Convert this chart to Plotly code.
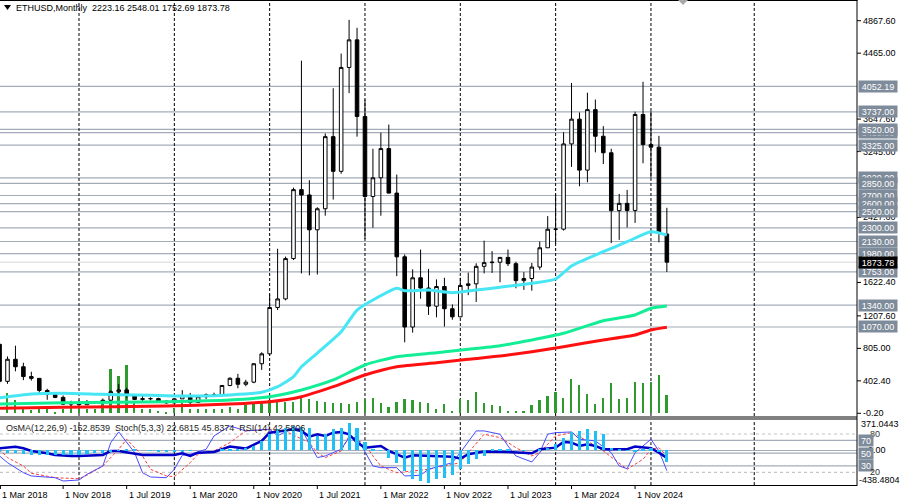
import plotly.graph_objects as go

W, H = 900, 502
FONT = "Liberation Sans, Arial, sans-serif"

# ---------------- categories: monthly bars Mar 2018 .. Mar 2025 ----------------
months = []
for yr in range(2018, 2026):
    for mo in range(1, 13):
        lab = f"{yr}-{mo:02d}"
        if "2018-03" <= lab <= "2025-03":
            months.append(lab)

def pos(label):
    y, m = label.split("-")
    return (int(y) - 2018) * 12 + int(m) - 1

# ---------------- OHLC ----------------
open_ = [855, 396, 670, 577, 455, 433, 283, 232, 197, 113,
         133, 106, 135, 141, 162, 268, 290, 218, 172, 180, 182, 152,
         129, 179, 218, 133, 206, 230, 226, 345, 434, 360, 386, 614,
         737, 1312, 1418, 1918, 2773, 2707, 2275, 2536, 3430, 3000, 4288, 4630,
         3680, 2688, 2920, 3282, 2730, 1940, 1070, 1680, 1553, 1328, 1572, 1296,
         1196, 1585, 1605, 1822, 1868, 1873, 1933, 1855, 1645, 1671, 1813, 2052,
         2282, 2283, 3340, 3647, 3015, 3765, 3435, 3230, 2513, 2603, 2515, 3705,
         3332, 3300, 2223.16]
high = [880, 705, 838, 626, 515, 434, 304, 235, 221, 156,
        160, 165, 147, 183, 287, 362, 317, 239, 224, 198, 193, 153,
        184, 287, 253, 227, 246, 256, 347, 445, 489, 415, 622, 756,
        1475, 2040, 1943, 2798, 4372, 2890, 2555, 3470, 4030, 4460, 4878, 4780,
        3890, 3280, 3480, 3580, 2960, 1970, 1785, 2030, 1790, 1660, 1680, 1350,
        1680, 1745, 1860, 2140, 2010, 1930, 2030, 1880, 1750, 1865, 2130, 2445,
        2715, 3485, 4095, 3730, 3975, 3890, 3560, 3280, 2720, 2770, 3740, 4110,
        3745, 3440, 2548.01]
low = [367, 365, 520, 411, 405, 251, 167, 187, 101, 82,
       102, 102, 127, 140, 158, 230, 191, 164, 152, 159, 140, 117,
       126, 179, 90, 131, 176, 216, 225, 335, 310, 335, 373, 538,
       714, 1280, 1400, 1900, 1735, 1710, 1720, 2450, 2650, 2970, 3970, 3430,
       2160, 2300, 2450, 2790, 1700, 880, 1000, 1420, 1220, 1190, 1075, 1160,
       1190, 1465, 1380, 1735, 1740, 1625, 1825, 1550, 1530, 1520, 1780, 2050,
       2100, 2265, 3055, 2815, 2865, 3235, 3090, 2110, 2150, 2305, 2360, 3100,
       2920, 2120, 1752.69]
close = [396, 670, 577, 455, 433, 283, 232, 197, 113, 133,
         106, 135, 141, 162, 268, 290, 218, 172, 180, 182, 152, 129,
         179, 218, 133, 206, 230, 226, 345, 434, 360, 386, 614, 737,
         1312, 1418, 1918, 2773, 2707, 2275, 2536, 3430, 3000, 4288, 4630, 3680,
         2688, 2920, 3282, 2730, 1940, 1070, 1680, 1553, 1328, 1572, 1296, 1196,
         1585, 1605, 1822, 1868, 1873, 1933, 1855, 1645, 1671, 1813, 2052, 2282,
         2283, 3340, 3647, 3015, 3765, 3435, 3230, 2513, 2603, 2515, 3705, 3332,
         3300, 2237, 1873.78]

# tick volume (drawn in the price window)
volume = [None,
          251, 161, 78, 37, 58, 58, 12, 58, 99, 58, 58, 58, 169, 553, 458, 594, 124, 58, 58,
          29, 4, 70, 124, 58, 58, 58, 58, 58, 78, 58, 99, 111, 140, 161, 150, 140, 140,
          195, 173, 152, 140, 132, 132, 120, 140, 173, 195, 132, 78, 140, 173, 161, 140,
          128, 58, 120, 25, 173, 161, 264, 132, 107, 91, 29, 29, 25, 107, 169, 210, 264,
          195, 429, 347, 244, 120,
          195, 375, 182, 195, 388, 375, 388, 479, 231]

# ---------------- moving averages (read at key months) ----------------
ma_cyan_dates = ["2018-03", "2018-07", "2018-11", "2019-04", "2019-08", "2019-12", "2020-04",
                 "2020-08", "2020-12", "2021-02", "2021-04", "2021-05", "2021-07", "2021-10",
                 "2021-12", "2022-02", "2022-05", "2022-06", "2022-09", "2022-12", "2023-03",
                 "2023-06", "2023-10", "2024-01", "2024-03", "2024-07", "2024-10", "2025-01",
                 "2025-03"]
ma_cyan = [193, 239, 248, 235, 227, 218, 214, 227, 260, 330, 454, 577, 747, 1011, 1280,
           1404, 1549, 1520, 1528, 1495, 1528, 1562, 1612, 1665, 1826, 2003, 2127, 2251, 2210]

ma_slow_dates = ["2018-03", "2018-11", "2019-12", "2020-08", "2021-01", "2021-05", "2021-09",
                 "2022-01", "2022-05", "2022-10", "2023-02", "2023-06", "2023-10", "2024-02",
                 "2024-07", "2024-11", "2025-01", "2025-03"]
ma_green = [115, 131, 144, 165, 206, 289, 413, 599, 702, 751, 793, 838, 909, 992,
            1148, 1219, 1302, 1330]
ma_red = [62, 74, 90, 115, 144, 206, 330, 475, 577, 627, 669, 710, 764, 826,
          909, 971, 1033, 1066]

# ---------------- horizontal levels / axis labels ----------------
levels = [4052.19, 3737.00, 3480.00, 3520.00, 3325.00, 2920.00, 2850.00, 2700.00,
          2600.00, 2500.00, 2300.00, 2130.00, 1980.00, 1753.00, 1340.00, 1070.00]
last_price = 1873.78
price_ticks = [4867.60, 4465.00, 3647.60, 3245.00, 2427.60, 1622.40, 1207.60,
               805.00, 402.40, -0.20]

# ---------------- oscillators ----------------
osma = [-20, -35, -40, -45, -55, -60, -65, -65, -65, -60,
        -55, -50, -40, -30, -20, -5, 5, 5, 0, -5,
        -10, -15, -15, -10, -5, 0, 0, 0, 5, 5,
        15, 30, 54, 118, 202, 266, 286, 307, 300, 286,
        181, 202, 266, 286, 341, 286, 100, 20, -8, -93,
        -156, -262, -367, -388, -410, -367, -346, -315, -240, -177,
        -110, -70, 10, 15, 10, 0, -5, 0, 10, 34,
        76, 160, 232, 244, 266, 244, 202, 34, 20, -8,
        -10, 10, 25, -21, -153]

rsi_dates = ["2018-03", "2018-05", "2018-06", "2018-07", "2018-09", "2018-10", "2018-12",
             "2019-01", "2019-04", "2019-05", "2019-06", "2019-08", "2019-09", "2020-01",
             "2020-02", "2020-03", "2020-04", "2020-06", "2020-07", "2020-08", "2020-10",
             "2020-12", "2021-01", "2021-04", "2021-05", "2021-06", "2021-07", "2021-08",
             "2021-09", "2021-10", "2021-11", "2021-12", "2022-01", "2022-03", "2022-04",
             "2022-06", "2022-07", "2022-09", "2022-12", "2023-01", "2023-02", "2023-04",
             "2023-07", "2023-10", "2023-11", "2024-01", "2024-02", "2024-03", "2024-04",
             "2024-05", "2024-06", "2024-07", "2024-10", "2024-11", "2025-01", "2025-02",
             "2025-03"]
rsi = [57.7, 60.0, 57.7, 53.4, 49.8, 47.2, 45.6, 45.6, 47.2, 53.4, 53.4, 49.2, 47.2, 47.2,
       49.8, 45.6, 50.8, 51.9, 56.1, 60.2, 57.1, 69.1, 82.1, 87.4, 84.8, 75.9, 79.6, 77.0,
       82.1, 83.2, 79.6, 66.5, 58.6, 61.3, 53.4, 43.0, 46.7, 45.6, 44.5, 41.4, 48.3, 52.4,
       51.9, 49.8, 56.1, 58.6, 67.6, 66.5, 61.3, 63.9, 61.3, 56.1, 56.1, 60.2, 57.7, 50.8,
       42.6]

stoch_dates = ["2018-03", "2018-04", "2018-06", "2018-07", "2018-10", "2018-11", "2019-01",
               "2019-02", "2019-04", "2019-05", "2019-06", "2019-08", "2019-09", "2019-10",
               "2019-12", "2020-01", "2020-02", "2020-03", "2020-05", "2020-06", "2020-08",
               "2020-10", "2021-01", "2021-02", "2021-04", "2021-05", "2021-07", "2021-08",
               "2021-10", "2021-11", "2021-12", "2022-02", "2022-03", "2022-05", "2022-06",
               "2022-08", "2022-09", "2022-12", "2023-01", "2023-03", "2023-04", "2023-06",
               "2023-07", "2023-08", "2023-10", "2023-11", "2023-12", "2024-01", "2024-03",
               "2024-04", "2024-06", "2024-08", "2024-09", "2024-10", "2024-11", "2025-01",
               "2025-02", "2025-03"]
stoch_main = [45.6, 35.1, 19.4, 14.3, 11.6, 6.4, 8.0, 16.9, 29.9, 66.5, 83.2, 50.8, 19.4,
              12.7, 11.6, 24.8, 46.7, 48.3, 56.1, 77.0, 92.6, 84.8, 87.5, 77.0, 90.0, 87.5,
              43.0, 45.6, 56.1, 74.3, 74.3, 29.9, 27.3, 27.3, 14.3, 15.4, 24.8, 35.1, 50.8,
              84.8, 84.8, 79.6, 61.3, 45.6, 36.2, 50.8, 79.6, 82.1, 83.2, 71.8, 69.1, 50.8,
              29.9, 25.7, 50.8, 71.8, 53.4, 22.7]

signal_dates = ["2018-03", "2018-04", "2018-06", "2018-07", "2018-10", "2019-01", "2019-02",
                "2019-04", "2019-06", "2019-07", "2019-09", "2019-10", "2019-12", "2020-01",
                "2020-03", "2020-04", "2020-06", "2020-08", "2020-10", "2021-01", "2021-03",
                "2021-06", "2021-07", "2021-08", "2021-10", "2021-11", "2022-01", "2022-02",
                "2022-03", "2022-05", "2022-07", "2022-09", "2022-11", "2023-01", "2023-02",
                "2023-04", "2023-06", "2023-08", "2023-10", "2023-11", "2023-12", "2024-01",
                "2024-03", "2024-05", "2024-07", "2024-09", "2024-10", "2024-12", "2025-01",
                "2025-02", "2025-03"]
stoch_signal = [56.1, 43.0, 29.9, 18.5, 11.6, 10.0, 15.4, 29.9, 56.1, 71.8, 45.6, 24.8, 14.3,
                13.2, 35.1, 48.3, 53.4, 66.5, 85.0, 87.0, 84.0, 66.5, 50.8, 43.0, 53.4, 77.0,
                63.9, 45.6, 29.9, 19.4, 22.1, 24.8, 29.9, 35.1, 50.8, 79.6, 74.3, 58.6, 45.6,
                50.8, 63.9, 77.0, 82.1, 69.1, 53.4, 35.1, 24.8, 40.4, 56.1, 58.6, 45.8]

date_labels = ["2018-03", "2018-11", "2019-07", "2020-03", "2020-11", "2021-07",
               "2022-03", "2022-11", "2023-07", "2024-03", "2024-11"]
month_names = ["Jan", "Feb", "Mar", "Apr", "May", "Jun", "Jul", "Aug", "Sep", "Oct", "Nov", "Dec"]
year_lines = ["2019-01", "2020-01", "2021-01", "2022-01", "2023-01", "2024-01", "2025-01", "2026-02"]

# ---------------- geometry helpers (pixel -> paper) ----------------
def px(x):
    return x / W

def py(y):
    return 1 - y / H

PLOT_R = 857
MAIN_TOP, MAIN_BOT = 0, 416
SUB_TOP, SUB_BOT = 421.2, 485.1
X_RANGE = [2.0556, 109.936]
Y_RANGE = [-33.7, 5124.3]

xs = [pos(m) for m in months]

fig = go.Figure()

# volumes
fig.add_trace(go.Bar(x=xs, y=volume, width=0.22, marker=dict(color="#2f9a2f", line_width=0),
                     xaxis="x", yaxis="y", showlegend=False, hoverinfo="skip"))

# candles
fig.add_trace(go.Candlestick(
    x=xs, open=open_, high=high, low=low, close=close,
    increasing=dict(line=dict(color="#000000", width=1), fillcolor="#ffffff"),
    decreasing=dict(line=dict(color="#000000", width=1), fillcolor="#000000"),
    whiskerwidth=0, xaxis="x", yaxis="y", showlegend=False, hoverinfo="skip"))

# moving averages
fig.add_trace(go.Scatter(x=[pos(d) for d in ma_slow_dates], y=ma_red, mode="lines",
                         line=dict(color="#ff1010", width=3, shape="spline", smoothing=0.6),
                         xaxis="x", yaxis="y", showlegend=False, hoverinfo="skip"))
fig.add_trace(go.Scatter(x=[pos(d) for d in ma_slow_dates], y=ma_green, mode="lines",
                         line=dict(color="#12ee96", width=3, shape="spline", smoothing=0.6),
                         xaxis="x", yaxis="y", showlegend=False, hoverinfo="skip"))
fig.add_trace(go.Scatter(x=[pos(d) for d in ma_cyan_dates], y=ma_cyan, mode="lines",
                         line=dict(color="#46e6f5", width=3, shape="spline", smoothing=0.6),
                         xaxis="x", yaxis="y", showlegend=False, hoverinfo="skip"))

# OsMA histogram
fig.add_trace(go.Bar(x=xs, y=osma, width=0.4, marker=dict(color="#1ec0f5", line_width=0),
                     xaxis="x2", yaxis="y3", showlegend=False, hoverinfo="skip"))
# Stochastic signal / main, RSI
fig.add_trace(go.Scatter(x=[pos(d) for d in signal_dates], y=stoch_signal, mode="lines",
                         line=dict(color="#ff3a3a", width=1, dash="3px,2px"),
                         xaxis="x2", yaxis="y2", showlegend=False, hoverinfo="skip"))
fig.add_trace(go.Scatter(x=[pos(d) for d in stoch_dates], y=stoch_main, mode="lines",
                         line=dict(color="#4a4aff", width=1),
                         xaxis="x2", yaxis="y2", showlegend=False, hoverinfo="skip"))
fig.add_trace(go.Scatter(x=[pos(d) for d in rsi_dates], y=rsi, mode="lines",
                         line=dict(color="#0000c8", width=2.5),
                         xaxis="x2", yaxis="y2", showlegend=False, hoverinfo="skip"))

shapes = []
# price levels
for v in levels:
    shapes.append(dict(type="line", xref="paper", yref="y", x0=0, x1=px(PLOT_R), y0=v, y1=v,
                       line=dict(color="#a3adba", width=1.2), layer="below"))
shapes.append(dict(type="line", xref="paper", yref="y", x0=0, x1=px(PLOT_R),
                   y0=last_price, y1=last_price, line=dict(color="#d6d6d6", width=1), layer="below"))
# sub-window levels
for v, dash, col in [(80, "3px,3px", "#c4c4c4"), (70, "solid", "#a3adba"), (50, "solid", "#a3adba"),
                     (30, "solid", "#a3adba"), (20, "3px,3px", "#c4c4c4")]:
    shapes.append(dict(type="line", xref="paper", yref="y2", x0=0, x1=px(PLOT_R), y0=v, y1=v,
                       line=dict(color=col, width=1.2, dash=dash), layer="below"))
shapes.append(dict(type="line", xref="paper", yref="y3", x0=0, x1=px(PLOT_R), y0=0, y1=0,
                   line=dict(color="#a3adba", width=1.2), layer="below"))
# yearly dashed grid
for d in year_lines:
    p = pos(d)
    shapes.append(dict(type="line", xref="x", yref="paper", x0=p, x1=p, y0=py(MAIN_BOT), y1=1,
                       line=dict(color="#000000", width=1, dash="3px,2px"), layer="below"))
    shapes.append(dict(type="line", xref="x", yref="paper", x0=p, x1=p, y0=py(SUB_BOT), y1=py(420),
                       line=dict(color="#000000", width=1, dash="3px,2px"), layer="below"))
# separators / frame
shapes.append(dict(type="rect", xref="paper", yref="paper", x0=0, x1=px(PLOT_R),
                   y0=py(420), y1=py(416), fillcolor="#808080", line_width=0))
shapes.append(dict(type="line", xref="paper", yref="paper", x0=0, x1=px(PLOT_R + 0.5),
                   y0=py(0.5), y1=py(0.5), line=dict(color="#000000", width=1)))
shapes.append(dict(type="line", xref="paper", yref="paper", x0=px(PLOT_R), x1=px(PLOT_R),
                   y0=py(486), y1=1, line=dict(color="#000000", width=1)))
shapes.append(dict(type="line", xref="paper", yref="paper", x0=0, x1=px(PLOT_R),
                   y0=py(485.5), y1=py(485.5), line=dict(color="#000000", width=1)))
# price axis tick marks
for v in price_ticks:
    shapes.append(dict(type="line", xref="paper", yref="y", x0=px(PLOT_R), x1=px(PLOT_R + 4),
                       y0=v, y1=v, line=dict(color="#000000", width=1)))
# time axis tick marks
for d in date_labels:
    p = max(pos(d), X_RANGE[0] + 0.05)
    shapes.append(dict(type="line", xref="x", yref="paper", x0=p, x1=p, y0=py(489), y1=py(485.5),
                       line=dict(color="#000000", width=1)))
# header triangle and chart-shift marker
shapes.append(dict(type="path", xref="paper", yref="paper",
                   path=f"M {px(4)},{py(5)} L {px(11)},{py(5)} L {px(7.5)},{py(10)} Z",
                   fillcolor="#000000", line_width=0))
shapes.append(dict(type="path", xref="paper", yref="paper",
                   path=f"M {px(678)},{py(0)} L {px(688)},{py(0)} L {px(683)},{py(5)} Z",
                   fillcolor="#a8a8a8", line_width=0))

ann = []
def text(x, y, s, xref="paper", yref="paper", color="#000000", xanchor="left", size=9, **kw):
    ann.append(dict(x=x, y=y, xref=xref, yref=yref, text=s, showarrow=False, xanchor=xanchor,
                    yanchor="middle", font=dict(family=FONT, size=size, color=color), **kw))

# price axis labels
for v in price_ticks:
    text(px(861), v, f"{v:.2f}", yref="y")
# level boxes
for v in levels:
    text(px(857.5), v, f"{v:.2f}", yref="y", color="#ffffff", bgcolor="#7e8b9a",
         width=36, height=9, borderpad=1, align="center")
text(px(857.5), last_price, f"{last_price:.2f}", yref="y", color="#ffffff", bgcolor="#000000",
     width=36, height=9, borderpad=1, align="center")

# sub-window axis labels
text(px(859), py(424.3), "371.0443")
text(px(868), 80, "80", yref="y2", color="#333333")
text(px(866), 0, "0.00", yref="y3")
text(px(857), py(479.5), "-438.4804")
for v in [70, 50, 30]:
    text(px(857.5), v, str(v), yref="y2", color="#ffffff", bgcolor="#7e8b9a",
         width=12, height=9, borderpad=1, align="center")
text(px(868), 20, "20", yref="y2", color="#333333")

# headers
text(px(14), py(8), "ETHUSD,Monthly  2223.16 2548.01 1752.69 1873.78")
text(px(4), py(428), "OsMA(12,26,9) -152.8539  Stoch(5,3,3) 22.6815 45.8374  RSI(14) 42.5806",
     color="#222222")

# time labels (first one starts at the left edge of the plot)
for d in date_labels:
    y, m = d.split("-")
    text(max(pos(d), X_RANGE[0] + 0.05), py(494.5), f"1 {month_names[int(m) - 1]} {y}", xref="x")

axis_off = dict(showgrid=False, zeroline=False, showticklabels=False, showline=False, ticks="")
fig.update_layout(
    width=W, height=H, margin=dict(l=0, r=0, t=0, b=0),
    paper_bgcolor="#ffffff", plot_bgcolor="#ffffff",
    showlegend=False, boxgap=0.36, bargap=0,
    xaxis=dict(domain=[0, px(PLOT_R)], range=X_RANGE, rangeslider=dict(visible=False),
               anchor="y", **axis_off),
    yaxis=dict(domain=[py(MAIN_BOT), 1], range=Y_RANGE, anchor="x", **axis_off),
    xaxis2=dict(domain=[0, px(PLOT_R)], range=X_RANGE, anchor="y2", matches="x", **axis_off),
    yaxis2=dict(domain=[py(SUB_BOT), py(SUB_TOP)], range=[0, 100], anchor="x2", **axis_off),
    yaxis3=dict(range=[-438.4804, 371.0443], overlaying="y2", anchor="x2", **axis_off),
    shapes=shapes, annotations=ann,
)

fig.write_html("out.html")
